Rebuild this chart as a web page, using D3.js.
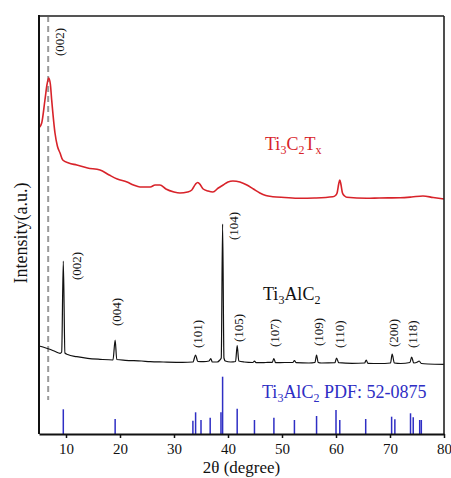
<!DOCTYPE html>
<html>
<head>
<meta charset="utf-8">
<script src="https://cdn.jsdelivr.net/npm/d3@7"></script>
<style>
  html, body { margin: 0; padding: 0; background: #fff; }
  svg text { font-family: "Liberation Serif", "Times New Roman", serif !important; }
</style>
</head>
<body>
<svg width="451" height="478"></svg>
<script>
// Ti3C2Tx pattern (2theta, intensity a.u.)
const mxTheta = [5.0, 5.5, 6.1, 6.5, 6.8, 7.1, 7.35, 7.96, 8.4, 8.9, 9.4, 10.5, 12.0, 14.0, 16.3, 18.0, 19.5, 21.3, 22.5, 23.7,
  25.6, 26.5, 27.4, 28.5, 30.0, 31.1, 32.5, 33.3, 34.0, 34.4, 34.9, 35.4, 36.3, 37.2, 38.2, 39.1, 40.0, 40.9, 42.2, 43.5,
  44.7, 45.9, 47.0, 48.3, 50.5, 53.3, 56.0, 59.4, 59.9, 60.2, 60.5, 60.7, 60.9, 61.2, 61.6, 62.0, 65.7, 68.0, 71.9, 74.0,
  76.1, 78.0, 80.0];
const mxInt = [306, 311, 334, 350, 356, 350, 334, 301, 288, 281, 274, 271, 269, 266, 264, 259, 255, 252, 249, 247,
  247, 249, 249, 245, 242, 241, 242, 244, 250, 251.5, 249, 245, 243, 242, 246, 249, 252, 253, 252, 249,
  245, 241, 238.5, 237.3, 236.5, 235.7, 236, 237.3, 238.5, 241, 250, 254, 250, 241, 238, 236.7, 235.7, 236, 236.3, 237,
  238, 236.5, 235];

// Ti3AlC2 pattern
const maxTheta = [5.0, 6.0, 7.0, 8.0, 8.9, 9.2, 9.5, 9.8, 10.3, 12.0, 14.0, 16.3, 18.7, 19.1, 19.4, 21.0, 24.0, 25.6, 28.0, 31.6,
  33.5, 34.0, 34.4, 35.5, 36.5, 36.8, 37.1, 38.0, 38.5, 38.75, 39.0, 39.25, 39.5, 40.5, 41.4, 41.7, 42.0, 43.0, 44.6, 44.9,
  45.2, 47.0, 48.2, 48.5, 48.8, 50.5, 52.0, 52.3, 52.6, 55.0, 56.1, 56.4, 56.7, 57.3, 59.8, 60.1, 60.5, 63.0, 65.3, 65.6,
  65.9, 68.0, 70.1, 70.4, 70.8, 72.0, 73.7, 74.0, 74.4, 75.1, 75.4, 75.8, 77.0, 80.0];
const maxInt = [88, 86.5, 84.7, 82.5, 80.7, 82, 173, 81, 79.5, 77.3, 75.7, 74.7, 74, 94, 74.5, 73.7, 73, 72.3, 72, 71.7,
  72, 79, 72.5, 72.3, 73, 75.5, 72, 72, 74, 76, 210, 76, 73, 72, 72.5, 88.5, 73, 72, 71.5, 73,
  71.3, 71.5, 71.7, 75.5, 71.3, 71.5, 71.5, 73.5, 71.3, 71, 71.5, 79, 71.5, 71, 71.3, 76, 71.3, 70.7, 71, 74,
  70.7, 70.5, 71, 80, 71, 70.5, 71.5, 77, 71, 72, 73, 70.5, 70, 69.7];

// PDF 52-0875 reference lines
const pdfTheta = [9.5, 19.1, 33.5, 34.0, 35.0, 36.7, 38.7, 39.0, 41.7, 44.9, 48.5, 52.3, 56.4, 60.0, 60.7, 65.5, 70.3, 70.9, 73.8, 74.3, 75.5, 75.8];
const pdfInt = [24.7, 15, 13.3, 21.7, 14, 16.3, 21.7, 57.3, 25.3, 14, 16.3, 14, 18, 24, 14, 15, 17.3, 14.7, 20.7, 16.7, 14, 14];

// peak labels
const hklText = ["(002)", "(004)", "(101)", "(104)", "(105)", "(107)", "(109)", "(110)", "(200)", "(118)"];
const hklTheta = [12.0, 19.3, 34.3, 41.1, 41.9, 48.7, 56.7, 60.6, 70.7, 74.1];
const hklInt = [154, 108, 86, 194, 92, 87, 88, 86, 87, 86];

const xTicks = [10, 20, 30, 40, 50, 60, 70, 80];
const mxPeakTheta = 6.7;

const svg = d3.select('svg');
const m = { left: 39, right: 444, top: 16, bottom: 434 };

const x = d3.scaleLinear().domain([5, 80]).range([m.left, m.right]);
const y = d3.scaleLinear().domain([0, 418]).range([m.bottom, m.top]);

const red = '#d8232a';
const blue = '#2e2ec4';

// dashed guide at MXene (002)
svg.append('line')
  .attr('x1', x(mxPeakTheta)).attr('x2', x(mxPeakTheta))
  .attr('y1', m.top).attr('y2', y(34))
  .attr('stroke', '#9a9a9a')
  .attr('stroke-width', 2)
  .attr('stroke-dasharray', '6,4');

// reference sticks
svg.append('g').selectAll('line')
  .data(pdfTheta)
  .enter().append('line')
  .attr('x1', d => x(d)).attr('x2', d => x(d))
  .attr('y1', y(0))
  .attr('y2', (d, i) => y(pdfInt[i]))
  .attr('stroke', blue)
  .attr('stroke-width', 1.5);

const line = d3.line()
  .x(d => x(d[0]))
  .y(d => y(d[1]))
  .curve(d3.curveMonotoneX);

svg.append('path')
  .datum(mxTheta.map((t, i) => [t, mxInt[i]]))
  .attr('d', line)
  .attr('fill', 'none')
  .attr('stroke', red)
  .attr('stroke-width', 1.6);

svg.append('path')
  .datum(maxTheta.map((t, i) => [t, maxInt[i]]))
  .attr('d', line)
  .attr('fill', 'none')
  .attr('stroke', '#111')
  .attr('stroke-width', 1.2);

// frame
svg.append('line').attr('x1', m.left).attr('x2', m.right).attr('y1', m.top).attr('y2', m.top)
  .attr('stroke', '#555').attr('stroke-width', 2.2);
svg.append('line').attr('x1', m.right).attr('x2', m.right).attr('y1', m.top).attr('y2', m.bottom)
  .attr('stroke', '#222').attr('stroke-width', 1.6);
svg.append('line').attr('x1', m.left).attr('x2', m.left).attr('y1', m.top - 1).attr('y2', m.bottom)
  .attr('stroke', '#111').attr('stroke-width', 2);

const xAxis = d3.axisBottom(x)
  .tickValues(xTicks)
  .tickSize(4)
  .tickSizeOuter(0)
  .tickPadding(5);

const ax = svg.append('g')
  .attr('transform', `translate(0,${m.bottom})`)
  .call(xAxis);
ax.select('.domain').attr('stroke', '#111').attr('stroke-width', 2);
ax.selectAll('.tick line').attr('stroke', '#111').attr('stroke-width', 1.5);
ax.selectAll('.tick text')
  .attr('font-size', 15)
  .attr('fill', '#111');

// axis titles
svg.append('text')
  .attr('x', (m.left + m.right) / 2)
  .attr('y', 473)
  .attr('text-anchor', 'middle')
  .attr('font-size', 17)
  .attr('fill', '#111')
  .text('2θ (degree)');

svg.append('text')
  .attr('transform', `translate(27,${(m.top + m.bottom) / 2 + 8}) rotate(-90)`)
  .attr('text-anchor', 'middle')
  .attr('font-size', 18)
  .attr('fill', '#111')
  .text('Intensity(a.u.)');

// hkl labels
svg.append('g').selectAll('text')
  .data(hklText)
  .enter().append('text')
  .attr('transform', (d, i) => `translate(${x(hklTheta[i])},${y(hklInt[i])}) rotate(-90)`)
  .attr('dominant-baseline', 'central')
  .attr('font-size', 13)
  .attr('fill', '#111')
  .text(d => d);

svg.append('text')
  .attr('transform', `translate(${x(mxPeakTheta) + 11},${y(378)}) rotate(-90)`)
  .attr('dominant-baseline', 'central')
  .attr('font-size', 13)
  .attr('fill', '#111')
  .text('(002)');

// formula labels with subscripts
const formula = (parts, px, py, color) => {
  const t = svg.append('text')
    .attr('x', px).attr('y', py)
    .attr('font-size', 18)
    .attr('fill', color);
  let shifted = false;
  parts.forEach(([s, sub]) => {
    const ts = t.append('tspan').text(s);
    if (sub && !shifted) { ts.attr('dy', 4).attr('font-size', 12); shifted = true; }
    else if (sub) { ts.attr('font-size', 12); }
    else if (shifted) { ts.attr('dy', -4); shifted = false; }
  });
};

formula([['Ti'], ['3', 1], ['C'], ['2', 1], ['T'], ['x', 1]], 265, 150, red);
formula([['Ti'], ['3', 1], ['Al'], ['C'], ['2', 1]], 263, 300, '#111');
formula([['Ti'], ['3', 1], ['AlC'], ['2', 1], [' PDF: 52-0875']], 262, 398, blue);
</script>
</body>
</html>
